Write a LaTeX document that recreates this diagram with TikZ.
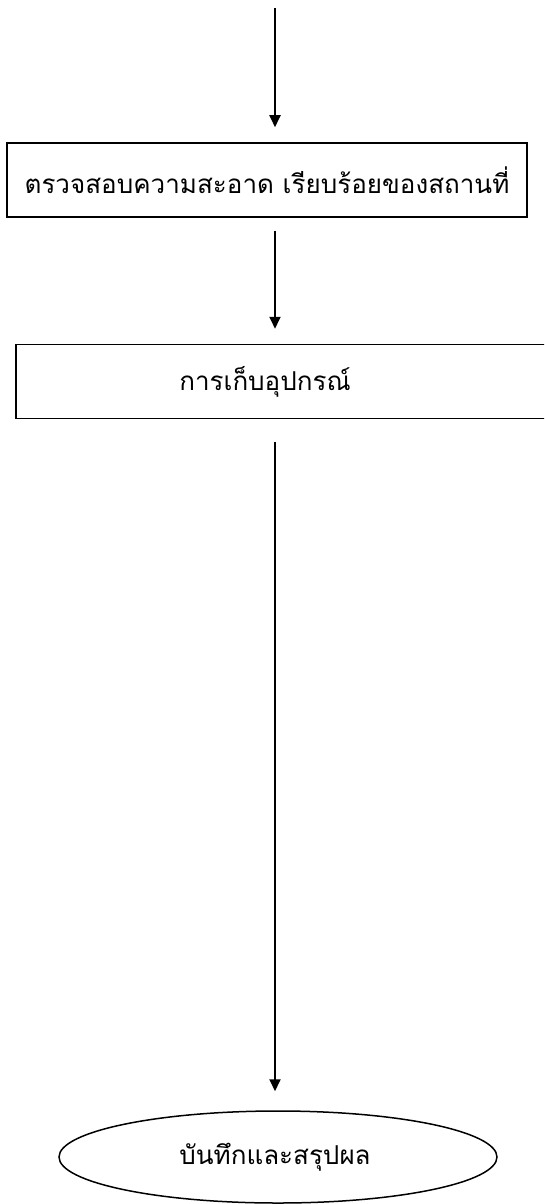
\documentclass[tikz,border=0pt]{standalone}
\usepackage{fontspec}
\newfontfamily\thaifont[Script=Thai]{Loma}
\usetikzlibrary{arrows.meta,positioning,shapes.geometric}

\begin{document}
\begin{tikzpicture}[x=1pt,y=-1pt,
  stepbox/.style={draw,line width=1.5pt,rectangle,minimum height=74pt,inner sep=0pt},
  endnode/.style={draw,line width=1.5pt,ellipse,minimum width=438pt,minimum height=92pt,inner sep=0pt},
  flow/.style={line width=1.8pt,-{Triangle[length=12pt,width=11pt]}},
  font=\thaifont\fontsize{26}{30}\selectfont]
  \useasboundingbox (0,0) rectangle (544,1204);
  \clip (0,0) rectangle (544,1204);
  \coordinate (start) at (275,8);
  \node[stepbox,minimum width=520pt] (check) at (267,180) {ตรวจสอบความสะอาด เรียบร้อยของสถานที่};
  \node[stepbox,minimum width=560pt,anchor=west] (keep) at (15,381.5) {};
  \node (keeptext) at (265,381.5) {การเก็บอุปกรณ์};
  \node[endnode] (result) at (278,1157) {};
  \node (resulttext) at (275,1157) {บันทึกและสรุปผล};
  % arrows between steps
  \draw[flow,shorten >=15pt] (start) -- (check.north -| start);
  \draw[flow,shorten <=13pt,shorten >=15pt] (check.south -| start) -- (keep.north -| start);
  \draw[flow,shorten <=23pt,shorten >=19pt] (keep.south -| start) -- (result.north -| start);
\end{tikzpicture}
\end{document}
